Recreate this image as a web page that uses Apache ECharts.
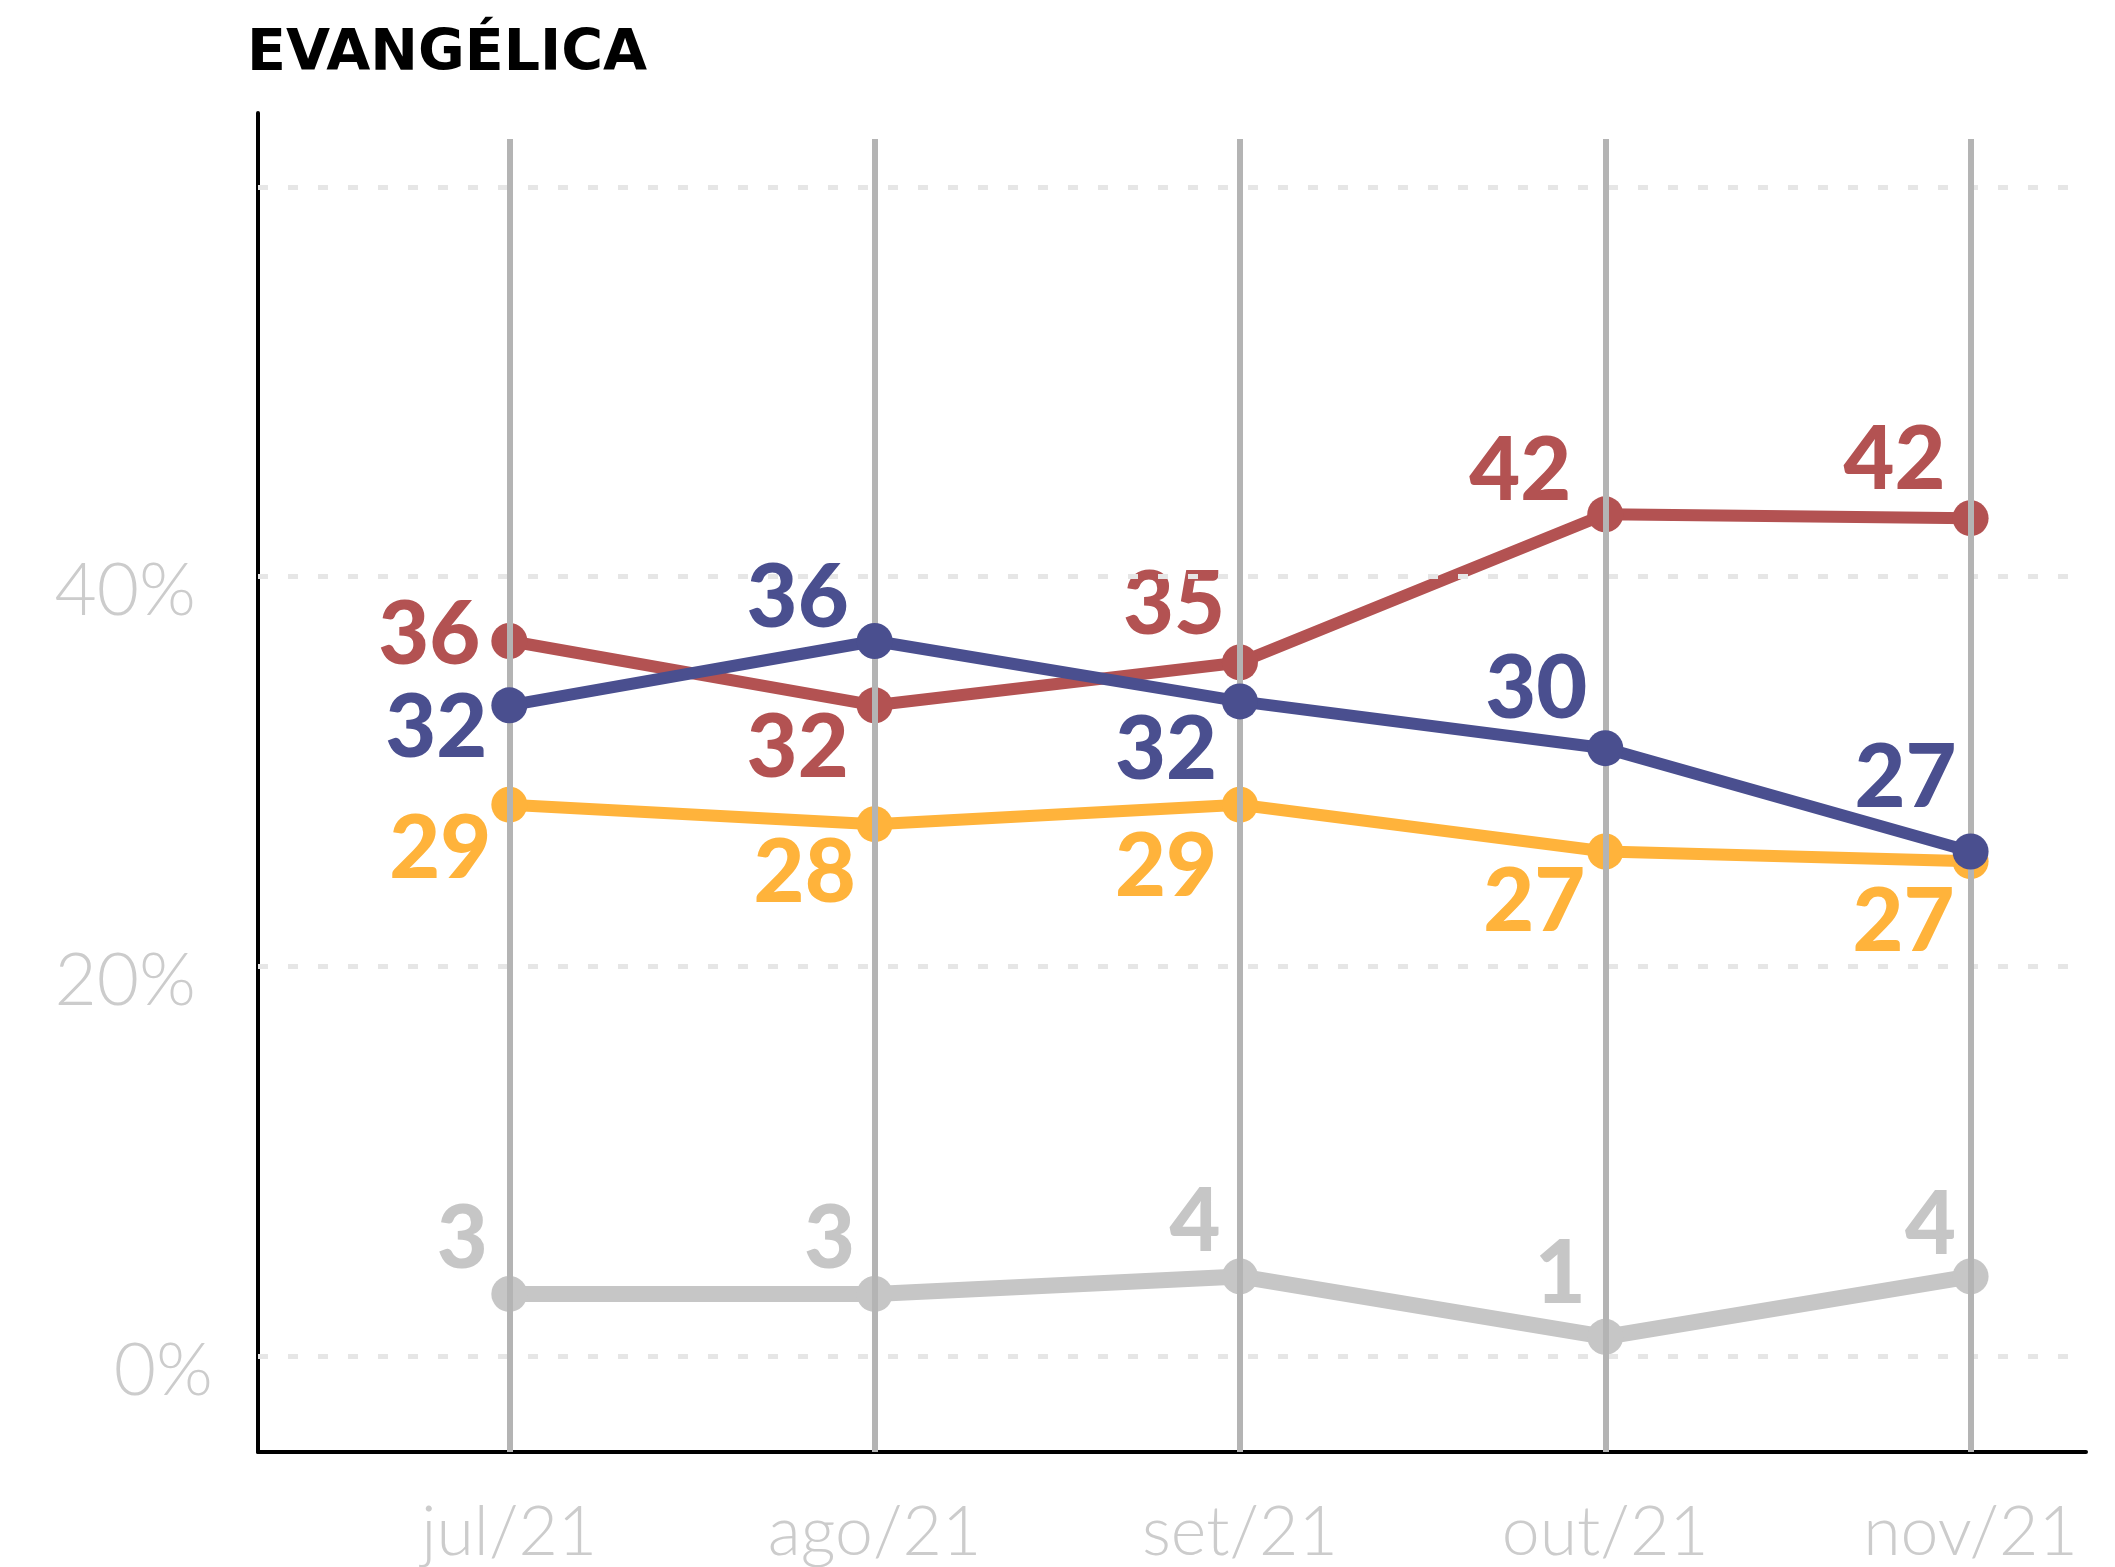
<!DOCTYPE html>
<html>
<head>
<meta charset="utf-8">
<title>Evangélica</title>
<script src="https://cdn.jsdelivr.net/npm/echarts@6/dist/echarts.min.js"></script>
<style>
  html, body { margin: 0; padding: 0; background: #fff; }
  #chart { width: 2115px; height: 1567px; }
</style>
</head>
<body>
<div id="chart"></div>
<script>
// meses da pesquisa
const months = ['jul/21', 'ago/21', 'set/21', 'out/21', 'nov/21'];

// altura de cada ponto no gráfico (%)
const redValues = [36.7, 33.4, 35.6, 43.2, 43.0];
const blueValues = [33.4, 36.7, 33.6, 31.2, 25.9];
const yellowValues = [28.3, 27.3, 28.3, 25.9, 25.4];
const grayValues = [3.2, 3.2, 4.1, 1.0, 4.1];

// numeros escritos ao lado dos pontos
const redLabels = [36, 32, 35, 42, 42];
const blueLabels = [32, 36, 32, 30, 27];
const yellowLabels = [29, 28, 29, 27, 27];
const grayLabels = [3, 3, 4, 1, 4];

// eixo y
const yTickLabels = [0, 20, 40];
const gridLineValues = [0, 20, 40, 60];

// layout
const Y_MIN = -4.91;
const Y_MAX = 63.79;
const VLINE_TOP = 62.46; // topo das linhas verticais
const X_MIN = -0.688;
const X_MAX = 4.316;

// deslocamento dos numeros em relacao ao ponto (px)
const redOffsets = [[-80, -5], [-77, 43], [-66, -57], [-85, -43], [-76, -58]];
const blueOffsets = [[-73, 23], [-77, -42], [-74, 49], [-69, -59], [-65, -73]];
const yellowOffsets = [[-69, 45], [-70, 49], [-74, 63], [-71, 51], [-67, 61]];
const grayOffsets = [[-47, -54], [-45, -54], [-45, -54], [-45, -62], [-40, -51]];

function makeSeries(name, values, labels, offsets, color, width, z) {
  return {
    name: name,
    type: 'line',
    z: z,
    data: values.map((v, i) => ({
      value: [i, v],
      label: { offset: offsets[i], formatter: String(labels[i]) }
    })),
    symbol: 'circle',
    symbolSize: 36,
    lineStyle: { color: color, width: width },
    itemStyle: { color: color },
    label: {
      show: true,
      position: 'inside',
      align: 'center',
      verticalAlign: 'middle',
      color: color,
      fontFamily: 'Lato',
      fontWeight: 900,
      fontSize: 88
    },
    emphasis: { disabled: true },
    animation: false
  };
}

let chart = echarts.init(document.getElementById('chart'));

let option = {
  backgroundColor: '#fff',
  animation: false,
  title: {
    text: 'EVANGÉLICA',
    left: 242,
    top: 22,
    textStyle: {
      fontFamily: 'DejaVu Sans',
      fontWeight: 'bold',
      fontSize: 57,
      color: '#000'
    }
  },
  grid: {
    left: 258,
    right: 29,
    top: 113,
    bottom: 111
  },
  xAxis: {
    type: 'value',
    min: X_MIN,
    max: X_MAX,
    axisLine: {
      onZero: false,
      lineStyle: { color: '#000', width: 4 }
    },
    axisTick: { show: false },
    splitLine: { show: false },
    axisLabel: {
      customValues: [0, 1, 2, 3, 4],
      formatter: (v) => months[Math.round(v)],
      margin: 47,
      color: '#cccccc',
      fontFamily: 'Lato',
      fontWeight: 300,
      fontSize: 68
    }
  },
  yAxis: {
    type: 'value',
    min: Y_MIN,
    max: Y_MAX,
    axisLine: {
      show: true,
      onZero: false,
      lineStyle: { color: '#000', width: 4 }
    },
    axisTick: { show: false },
    splitLine: { show: false },
    axisLabel: {
      customValues: yTickLabels,
      margin: 45,
      padding: [30, 0, 0, 0],
      formatter: (v) => v === 0 ? '{z|0%}' : '{n|' + v + '%}',
      rich: {
        n: { padding: [0, 17, 0, 0], color: '#cccccc', fontFamily: 'Lato', fontWeight: 300, fontSize: 73 },
        z: { color: '#cccccc', fontFamily: 'Lato', fontWeight: 300, fontSize: 73 }
      }
    }
  },
  series: [
    {
      // linhas de grade e linhas verticais dos meses
      name: 'grade',
      type: 'line',
      z: 1,
      data: [],
      silent: true,
      markLine: {
        silent: true,
        symbol: ['none', 'none'],
        label: { show: false },
        animation: false,
        data: [
          ...gridLineValues.map(v => ({
            yAxis: v,
            lineStyle: { color: '#e6e6e6', width: 5, type: [10, 20] }
          })),
          ...months.map((m, i) => [
            { coord: [i, VLINE_TOP], lineStyle: { color: '#b4b4b4', width: 6, type: 'solid' } },
            { coord: [i, Y_MIN] }
          ])
        ]
      }
    },
    makeSeries('cinza', grayValues, grayLabels, grayOffsets, '#c6c6c6', 16, 2),
    makeSeries('amarelo', yellowValues, yellowLabels, yellowOffsets, '#ffb33b', 12, 3),
    makeSeries('vermelho', redValues, redLabels, redOffsets, '#b35252', 12, 4),
    makeSeries('azul', blueValues, blueLabels, blueOffsets, '#4a4f8f', 12, 5)
  ]
};

chart.setOption(option);
</script>
</body>
</html>
